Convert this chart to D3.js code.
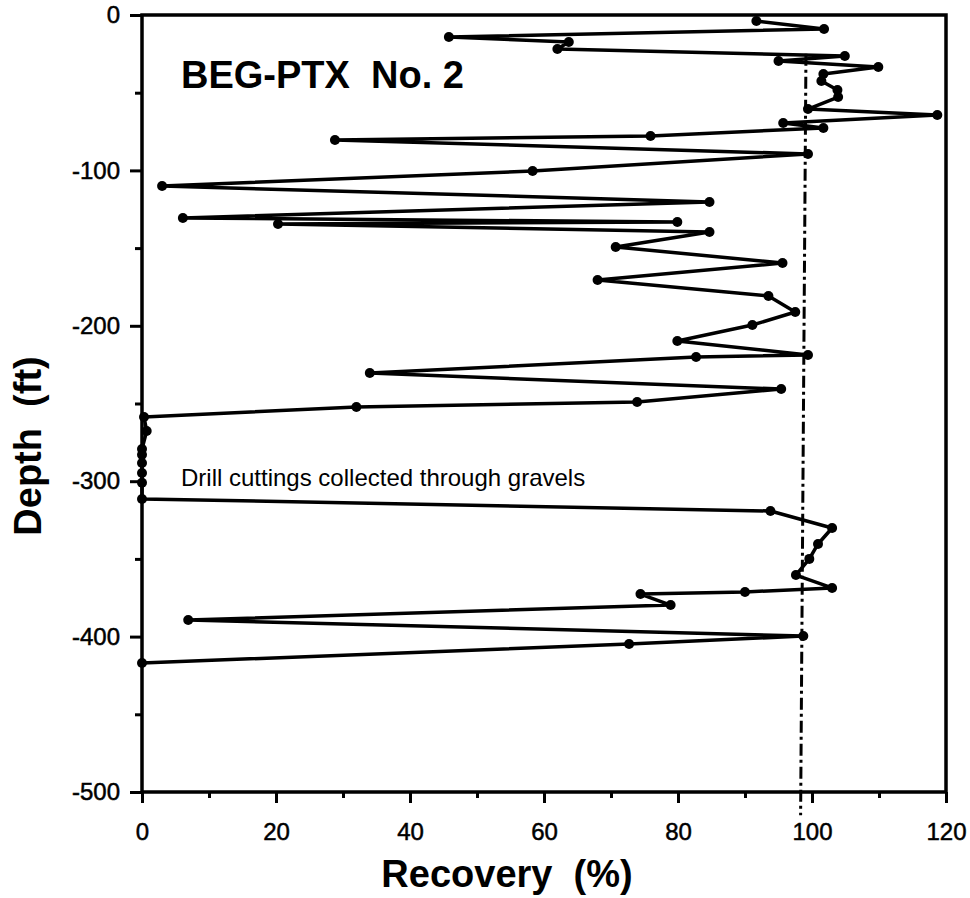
<!DOCTYPE html>
<meta charset="utf-8">
<style>

body {
  margin: 0;
  background: #fff;
}

text {
  font-family: "Liberation Sans", Arial, Helvetica, sans-serif;
  fill: #000;
}

.core-line {
  fill: none;
  stroke: #000;
  stroke-width: 3.5px;
  stroke-linejoin: round;
}

.ref-line {
  fill: none;
  stroke: #000;
  stroke-width: 3px;
  stroke-dasharray: 12 4 3 4;
}

.frame {
  fill: none;
  stroke: #000;
  stroke-width: 3.5px;
}

.axis path {
  display: none;
}

.axis line {
  stroke: #000;
  stroke-width: 3px;
}

.axis text {
  font-size: 24px;
  stroke: #000;
  stroke-width: 0.5px;
}

</style>
<body><svg width="970" height="898"></svg></body>
<script src="https://d3js.org/d3.v7.min.js"></script>
<script>

// core recovery (%) by depth (ft), top to bottom
var recovery = [91.7, 101.8, 45.8, 63.7, 62.0, 104.9, 95.0, 109.9, 101.7, 101.4,
  103.8, 103.9, 99.4, 118.7, 95.7, 101.7, 75.9, 28.8, 99.4, 58.3,
  3.0, 84.7, 6.1, 79.9, 20.3, 84.7, 70.7, 95.6, 68.0, 93.5,
  97.5, 91.1, 79.9, 99.4, 82.7, 34.0, 95.4, 73.9, 32.0, 0.3,
  0.7, 0, 0, 0, 0, 0, 0, 93.8, 103.0, 100.9,
  99.6, 97.6, 103.0, 90.0, 74.4, 78.9, 6.9, 98.7, 72.7, 0];

var depth = [-3.9, -9.0, -14.2, -17.4, -21.9, -26.4, -29.6, -33.5, -38.0, -42.5,
  -48.3, -52.8, -60.5, -64.4, -69.5, -72.7, -77.9, -80.4, -89.4, -100.4,
  -110, -120.3, -130.6, -133.2, -134.5, -139.6, -149.3, -159.6, -170.5, -180.8,
  -191.1, -199.5, -209.8, -218.8, -220.1, -230.4, -240.7, -249, -252.2, -258.7,
  -267.7, -279.3, -283, -288.3, -294.7, -301, -311.4, -319.2, -330.1, -340.4,
  -350, -360.4, -368.7, -371.3, -372.6, -379.7, -389.3, -399.6, -404.8, -417];

// dash-dot 100% reference line, as drawn
var refRecovery = [99.1, 98.3];
var refDepth = [-25, -515];

var xTicks = [0, 20, 40, 60, 80, 100, 120];
var xMinor = [10, 30, 50, 70, 90, 110];
var yTicks = [0, -100, -200, -300, -400, -500];
var yMinor = [-50, -150, -250, -350, -450];

var svg = d3.select("svg");

var plotLeft = 142, plotRight = 946, plotTop = 15, plotBottom = 792;

var x = d3.scaleLinear().domain([0, 120]).range([plotLeft, plotRight]);
var y = d3.scaleLinear().domain([0, -500]).range([plotTop, plotBottom]);

var points = recovery.map(function(r, i) { return [r, depth[i]]; });

var line = d3.line()
    .x(function(d) { return x(d[0]); })
    .y(function(d) { return y(d[1]); });

// plain hyphen for negatives, like the original
var plain = function(d) { return String(d); };

// ticks
svg.append("g")
    .attr("class", "axis")
    .attr("transform", "translate(0," + plotBottom + ")")
    .call(d3.axisBottom(x).tickValues(xTicks).tickSize(11).tickPadding(20).tickFormat(plain));

svg.append("g")
    .attr("class", "axis")
    .attr("transform", "translate(0," + plotBottom + ")")
    .call(d3.axisBottom(x).tickValues(xMinor).tickSize(6).tickFormat(""));

svg.append("g")
    .attr("class", "axis")
    .attr("transform", "translate(" + plotLeft + ",0)")
    .call(d3.axisLeft(y).tickValues(yTicks).tickSize(12).tickPadding(10).tickFormat(plain));

svg.append("g")
    .attr("class", "axis")
    .attr("transform", "translate(" + plotLeft + ",0)")
    .call(d3.axisLeft(y).tickValues(yMinor).tickSize(7).tickFormat(""));

// reference line
svg.append("path")
    .datum(refRecovery.map(function(r, i) { return [r, refDepth[i]]; }))
    .attr("class", "ref-line")
    .attr("d", line);

svg.append("rect")
    .attr("class", "frame")
    .attr("x", plotLeft)
    .attr("y", plotTop)
    .attr("width", plotRight - plotLeft)
    .attr("height", plotBottom - plotTop);

svg.append("path")
    .datum(points)
    .attr("class", "core-line")
    .attr("d", line);

svg.selectAll(".dot")
    .data(points)
  .enter().append("circle")
    .attr("class", "dot")
    .attr("cx", function(d) { return x(d[0]); })
    .attr("cy", function(d) { return y(d[1]); })
    .attr("r", 5);

// labels
svg.append("text")
    .attr("x", 181)
    .attr("y", 88)
    .attr("font-size", 38)
    .attr("font-weight", "bold")
    .style("white-space", "pre")
    .text("BEG-PTX  No. 2");

svg.append("text")
    .attr("x", 181)
    .attr("y", 486)
    .attr("font-size", 24)
    .text("Drill cuttings collected through gravels");

svg.append("text")
    .attr("x", 507)
    .attr("y", 887)
    .attr("text-anchor", "middle")
    .attr("font-size", 38)
    .attr("font-weight", "bold")
    .style("white-space", "pre")
    .text("Recovery  (%)");

svg.append("text")
    .attr("transform", "translate(41,446) rotate(-90)")
    .attr("text-anchor", "middle")
    .attr("font-size", 38)
    .attr("font-weight", "bold")
    .style("white-space", "pre")
    .text("Depth  (ft)");

</script>
